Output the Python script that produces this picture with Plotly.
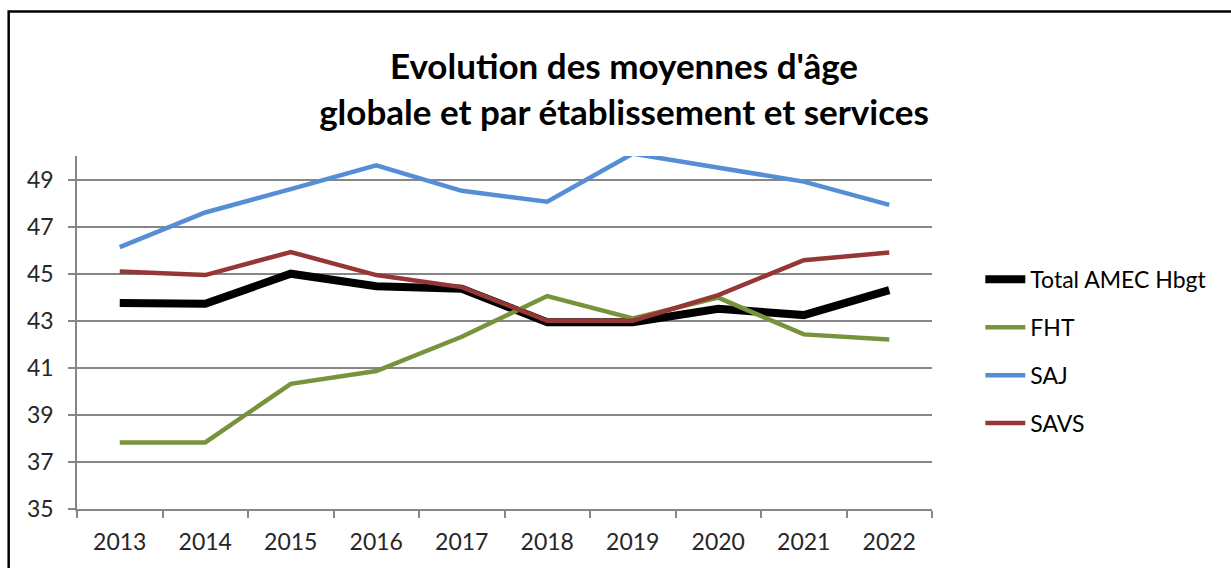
import plotly.graph_objects as go

years = ["2013", "2014", "2015", "2016", "2017", "2018", "2019", "2020", "2021", "2022"]
total_amec = [43.75, 43.72, 45.0, 44.47, 44.36, 42.94, 42.94, 43.51, 43.24, 44.3]
fht = [37.83, 37.83, 40.32, 40.86, 42.32, 44.05, 43.1, 43.98, 42.42, 42.2]
saj = [46.13, 47.6, 48.59, 49.6, 48.52, 48.06, 50.1, 49.51, 48.91, 47.92]
savs = [45.09, 44.94, 45.92, 44.94, 44.43, 43.0, 43.0, 44.09, 45.57, 45.9]
y_ticks = [35, 37, 39, 41, 43, 45, 47, 49]

W, H = 1231, 568
L, R, T, B = 77, 931.7, 156, 509.3

series = [
    ("Total AMEC Hbgt", total_amec, "#000000", 8),
    ("FHT", fht, "#77933C", 4.5),
    ("SAJ", saj, "#558ED5", 4.5),
    ("SAVS", savs, "#953735", 4.5),
]

fig = go.Figure()
for i, (name, vals, col, w) in enumerate(series):
    fig.add_trace(go.Scatter(
        x=years, y=vals, mode="lines", name=name, legendgroup=f"g{i}",
        line=dict(color=col, width=w, shape="linear"),
    ))

font_fam = "Lato, 'Open Sans', sans-serif"
pw, ph = R - L, B - T

fig.update_layout(
    width=W, height=H,
    margin=dict(l=L, r=W - R, t=T, b=H - B, pad=0),
    paper_bgcolor="white", plot_bgcolor="white",
    font=dict(family=font_fam, size=23, color="#262626"),
    title=dict(
        text="Evolution des moyennes d'âge<br>globale et par établissement et services",
        x=624 / W, xref="container", xanchor="center",
        y=1 - 79 / H, yref="container", yanchor="middle",
        font=dict(family=font_fam, size=35, color="#000000", weight="bold"),
    ),
    showlegend=True,
    legend=dict(
        x=(980 - L) / pw, xanchor="left",
        y=(B - 258) / ph, yanchor="top",
        traceorder="grouped", tracegroupgap=15,
        font=dict(size=23, color="#000000"),
        bgcolor="rgba(0,0,0,0)", itemwidth=40,
    ),
    xaxis=dict(
        type="category", range=[-0.5, 9.5], tickson="boundaries",
        ticks="outside", ticklen=7, tickwidth=1.5, tickcolor="#868686",
        showline=True, linecolor="#868686", linewidth=1.5,
        showgrid=False, zeroline=False, ticklabelstandoff=12,
    ),
    yaxis=dict(
        range=[35, 50], tickvals=y_ticks, ticks="outside", ticklen=7,
        tickwidth=1.5, tickcolor="#868686",
        showline=True, linecolor="#868686", linewidth=1.5,
        showgrid=True, gridcolor="#868686", gridwidth=1.5,
        zeroline=False, ticklabelstandoff=10,
    ),
    shapes=[dict(
        type="rect", xref="paper", yref="paper",
        x0=(8.7 - L) / pw, x1=(1245 - L) / pw,
        y0=(B - 590) / ph, y1=(B - 11.5) / ph,
        line=dict(color="#000000", width=2.5), fillcolor="rgba(0,0,0,0)",
        layer="below",
    )],
)

fig.write_html(
    "out.html",
    config={"displayModeBar": False},
    post_script="document.body.style.margin='0px';document.body.style.overflow='hidden';",
)
